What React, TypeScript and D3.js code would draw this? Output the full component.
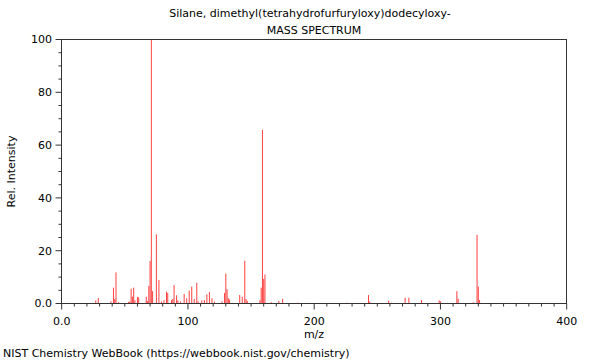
import React from "react";
import * as d3 from "d3";

const titleLines = ["Silane, dimethyl(tetrahydrofurfuryloxy)dodecyloxy-", "MASS SPECTRUM"];
const footer = "NIST Chemistry WebBook (https://webbook.nist.gov/chemistry)";
const xLabel = "m/z";
const yLabel = "Rel. Intensity";

const mzValues = [
  27, 29, 39, 41, 42, 43, 45, 53, 54, 55, 56, 57, 58, 60, 61, 67, 68, 69, 70, 71, 72, 75, 77,
  79, 81, 83, 84, 87, 88, 89, 91, 92, 94, 97, 99, 101, 103, 105, 107, 108, 111, 113, 115, 117,
  119, 121, 127, 129, 130, 131, 132, 133, 141, 143, 145, 146, 147, 157, 158, 159, 160, 161, 166,
  172, 175, 187, 226, 243, 244, 259, 261, 272, 275, 285, 299, 300, 313, 314, 326, 329, 330, 331,
];
const intensities = [
  1.2, 2.1, 0.8, 6, 1.7, 11.8, 0.5, 0.6, 0.8, 5.6, 2.6, 6, 1.2, 2.5, 2.3, 2.6, 0.9, 6.6, 16.1,
  100, 4.7, 26.2, 8.9, 0.8, 1.3, 4.5, 4, 1.3, 1.7, 7, 3.1, 1.2, 0.8, 3.6, 2, 4.9, 6.4, 1.7, 7.9,
  0.8, 1.2, 1.3, 3.5, 4.4, 2, 0.7, 0.8, 4, 11.3, 5.4, 2, 1.5, 3.2, 2.6, 16.2, 1.7, 1, 1.3, 6,
  65.7, 9.3, 11, 0.5, 1, 1.8, 0.3, 0.3, 3.2, 0.7, 1.1, 0.3, 2.2, 2.2, 1.3, 1.2, 0.8, 4.7, 1.8,
  0.4, 26, 6.4, 1.3,
];
const xTickLabels = ["0.0", "100", "200", "300", "400"];
const yTickLabels = ["0.0", "20", "40", "60", "80", "100"];

export default function App() {
  const W = 600;
  const H = 360;
  const x = d3.scaleLinear().domain([0, 400]).range([61.7, 566.7]);
  const y = d3.scaleLinear().domain([0, 100]).range([303.5, 39.5]);
  const left = 61.5;
  const right = 566.5;
  const top = 39.5;
  const bottom = 303.5;
  const font = "DejaVu Sans, sans-serif";
  const axisColor = "#333";

  const xMinor = d3.range(0, 401, 10);
  const yMinor = d3.range(0, 101, 5);

  return (
    <svg width={W} height={H} style={{ position: "absolute", left: 0, top: 0, background: "#fff" }}>
      <rect x={0} y={0} width={W} height={H} fill="#fff" />
      <text x={310} y={17} textAnchor="middle" fontFamily={font} fontSize={11} fill="#000">
        {titleLines[0]}
      </text>
      <text x={314} y={34} textAnchor="middle" fontFamily={font} fontSize={11} fill="#000">
        {titleLines[1]}
      </text>

      {mzValues.map((m, i) => (
        <line
          key={"p" + i}
          x1={x(m)}
          x2={x(m)}
          y1={y(0)}
          y2={y(intensities[i])}
          stroke="#ff0000"
          strokeOpacity={0.75}
          strokeWidth={1}
        />
      ))}

      <rect x={left} y={top} width={right - left} height={bottom - top} fill="none" stroke={axisColor} strokeWidth={1} />

      {xMinor.map((v) => (
        <line
          key={"xt" + v}
          x1={x(v)}
          x2={x(v)}
          y1={bottom}
          y2={bottom + (v % 100 === 0 ? 6 : 3)}
          stroke={axisColor}
          strokeWidth={1}
        />
      ))}
      {yMinor.map((v) => (
        <line
          key={"yt" + v}
          x1={left}
          x2={left - (v % 20 === 0 ? 6 : 3)}
          y1={y(v)}
          y2={y(v)}
          stroke={axisColor}
          strokeWidth={1}
        />
      ))}
      {xTickLabels.map((t, i) => (
        <text key={"xl" + i} x={x(i * 100)} y={325} textAnchor="middle" fontFamily={font} fontSize={11} fill="#000">
          {t}
        </text>
      ))}
      {yTickLabels.map((t, i) => (
        <text
          key={"yl" + i}
          x={52}
          y={y(i * 20)}
          dy="0.36em"
          textAnchor="end"
          fontFamily={font}
          fontSize={11}
          fill="#000"
        >
          {t}
        </text>
      ))}
      <text x={314} y={338} textAnchor="middle" fontFamily={font} fontSize={11} fill="#000">
        {xLabel}
      </text>
      <text
        transform={`translate(15, ${(top + bottom) / 2}) rotate(-90)`}
        textAnchor="middle"
        fontFamily={font}
        fontSize={11}
        fill="#000"
      >
        {yLabel}
      </text>
      <text x={3} y={357} fontFamily={font} fontSize={11} fill="#000">
        {footer}
      </text>
    </svg>
  );
}
